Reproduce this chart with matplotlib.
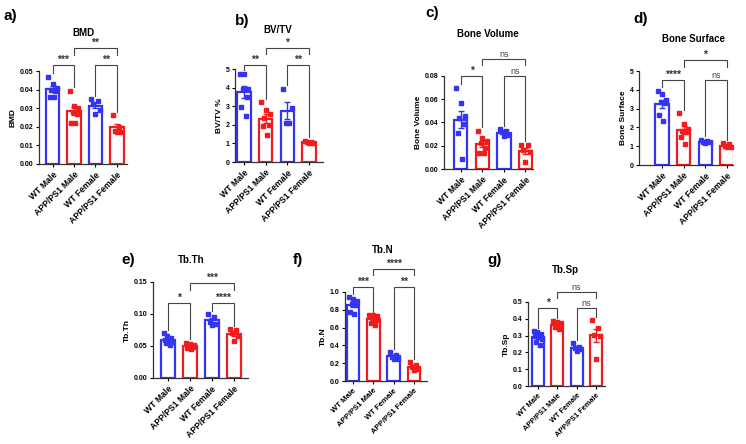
import numpy as np
import matplotlib
matplotlib.use('Agg')
import matplotlib.pyplot as plt
from matplotlib.ticker import FormatStrFormatter

plt.rcParams['font.family'] = ['Liberation Sans', 'DejaVu Sans']
plt.rcParams['font.weight'] = 'bold'

groups = ['WT Male', 'APP/PS1 Male', 'WT Female', 'APP/PS1 Female']
colors = ['#3434f4', '#f21c1c', '#3434f4', '#f21c1c']

bmd = [[0.047, 0.043, 0.041, 0.040, 0.039, 0.036, 0.036],
       [0.0394, 0.031, 0.030, 0.028, 0.027, 0.022, 0.022],
       [0.035, 0.034, 0.032, 0.029, 0.027],
       [0.0263, 0.020, 0.018, 0.017, 0.017]]
bvtv = [[4.75, 4.75, 3.95, 3.9, 3.5, 2.95, 2.5],
        [3.22, 2.79, 2.6, 2.39, 1.98, 1.92, 1.44],
        [3.95, 2.9, 2.1, 2.1],
        [1.15, 1.1, 1.05, 1.0, 1.0]]
bone_vol = [[0.070, 0.057, 0.046, 0.044, 0.039, 0.031, 0.0086],
            [0.033, 0.0266, 0.024, 0.022, 0.018, 0.0137, 0.0137],
            [0.034, 0.033, 0.032, 0.029, 0.0286],
            [0.021, 0.021, 0.016, 0.0143, 0.0057]]
bone_surf = [[3.95, 3.8, 3.45, 3.35, 3.3, 2.65, 2.35],
             [2.77, 2.2, 1.94, 1.82, 1.75, 1.5, 1.12],
             [1.35, 1.3, 1.2, 1.2, 1.15],
             [1.15, 1.1, 1.0, 0.95, 0.95]]
tb_th = [[0.070, 0.066, 0.062, 0.060, 0.058, 0.056, 0.055, 0.052],
         [0.055, 0.053, 0.051, 0.050, 0.049, 0.047, 0.046],
         [0.0996, 0.096, 0.088, 0.085, 0.083],
         [0.076, 0.075, 0.070, 0.065, 0.058]]
tb_n = [[0.94, 0.925, 0.90, 0.87, 0.85, 0.77, 0.75],
        [0.745, 0.74, 0.73, 0.72, 0.69, 0.655, 0.63],
        [0.33, 0.29, 0.27, 0.25, 0.245],
        [0.21, 0.18, 0.16, 0.14, 0.12]]
tb_sp = [[0.33, 0.32, 0.31, 0.30, 0.29, 0.28, 0.26, 0.245],
         [0.385, 0.38, 0.375, 0.37, 0.36, 0.35, 0.34],
         [0.255, 0.235, 0.225, 0.22, 0.21],
         [0.395, 0.345, 0.305, 0.30, 0.16]]

# significance: (WT M vs APP M, WT F vs APP F, APP M vs APP F)
sig_a = ['***', '**', '**']
sig_b = ['**', '**', '*']
sig_c = ['*', 'ns', 'ns']
sig_d = ['****', 'ns', '*']
sig_e = ['*', '****', '***']
sig_f = ['***', '**', '****']
sig_g = ['*', 'ns', 'ns']

W, H = 746, 444

# letter, title, ylabel, data, sig, ymax, ystep, fmt, bracket levels,
# axes px (left, right, top, bottom), xlim, letter px, title px, tick font
panels = [
    ('a)', 'BMD', 'BMD', bmd, sig_a, 0.05, 0.01, '%.2f', (0.0532, 0.0622),
     (39, 127, 71, 164), (-0.63, 3.47), (3, 16), (83, 33), 6.2),
    ('b)', 'BV/TV', 'BV/TV %', bvtv, sig_b, 5, 1, '%d', (5.2, 6.15),
     (235, 323, 69, 162), (-0.42, 3.65), (235, 21), (278, 30), 6.2),
    ('c)', 'Bone Volume', 'Bone Volume', bone_vol, sig_c, 0.08, 0.02, '%.2f', (0.08, 0.095),
     (444, 533, 76, 169), (-0.78, 3.35), (425, 13), (488, 34), 6.2),
    ('d)', 'Bone Surface', 'Bone Surface', bone_surf, sig_d, 5, 1, '%d', (4.54, 5.57),
     (639, 733, 71, 165), (-1.06, 3.28), (633, 19), (693, 39), 6.2),
    ('e)', 'Tb.Th', 'Tb.Th', tb_th, sig_e, 0.15, 0.05, '%.2f', (0.117, 0.148),
     (153, 248, 282, 378), (-0.68, 3.64), (121, 260), (191, 260), 6.2),
    ('f)', 'Tb.N', 'Tb.N', tb_n, sig_f, 1.0, 0.2, '%.1f', (1.056, 1.26),
     (345, 427, 292, 381), (-0.39, 3.64), (293, 260), (383, 250), 5.6),
    ('g)', 'Tb.Sp', 'Tb.Sp', tb_sp, sig_g, 0.5, 0.1, '%.1f', (0.464, 0.56),
     (528, 605, 302, 386), (-0.52, 3.47), (487, 260), (565, 270), 5.3),
]

fig = plt.figure(figsize=(W / 100, H / 100), dpi=100)


def jitter(n):
    base = np.linspace(-0.2, 0.2, n)
    order = [(k * 3) % n for k in range(n)]
    return base[order]


def bracket(ax, x1, x2, y, yl, yr, label):
    ax.plot([x1, x1, x2, x2], [yl, y, y, yr], color='#444444', lw=0.8,
            clip_on=False, solid_joinstyle='miter')
    if label == 'ns':
        ax.text((x1 + x2) / 2, y, label, ha='center', va='bottom',
                fontsize=6.5, fontweight='normal', color='#444444')
    else:
        ax.text((x1 + x2) / 2, y, label, ha='center', va='bottom',
                fontsize=7.5, color='#333333')


for (letter, title, ylab, data, sig, ymax, ystep, fmt, levels,
     px, xlim, lpos, tpos, tfs) in panels:
    l, r, t, b = px
    ax = fig.add_axes([l / W, 1 - b / H, (r - l) / W, (b - t) / H])
    x = np.arange(len(groups))
    means = [np.mean(d) for d in data]
    sems = [np.std(d, ddof=1) / np.sqrt(len(d)) for d in data]
    for i, d in enumerate(data):
        ax.bar(x[i], means[i], width=0.62, facecolor='white',
               edgecolor=colors[i], linewidth=1.6, zorder=2)
        ax.errorbar(x[i], means[i], yerr=sems[i], color=colors[i],
                    capsize=2.5, elinewidth=1.0, capthick=1.0, zorder=3)
        ax.plot(x[i] + jitter(len(d)), d, 's', color=colors[i],
                markersize=3.5, zorder=4, clip_on=False)

    ax.set_xlim(*xlim)
    ax.set_ylim(0, ymax)
    ax.set_yticks(np.arange(0, ymax + ystep / 2, ystep))
    ax.yaxis.set_major_formatter(FormatStrFormatter(fmt))
    ax.set_xticks(x)
    ax.set_xticklabels(groups, rotation=45, ha='right', rotation_mode='anchor',
                       fontsize=tfs, fontweight='bold')
    ax.tick_params(axis='y', labelsize=5, length=2.5, width=0.8, pad=1.5)
    ax.tick_params(axis='x', length=2.5, width=0.8, pad=2)
    for s in ['top', 'right']:
        ax.spines[s].set_visible(False)
    for s in ['left', 'bottom']:
        ax.spines[s].set_linewidth(0.9)
        ax.spines[s].set_color('#333333')
    ax.set_ylabel(ylab, fontsize=6, fontweight='bold', labelpad=2)

    gap = 0.035 * ymax
    low, top = levels
    tops = [max(d) for d in data]
    bracket(ax, 0, 1, low, tops[0] + gap, tops[1] + gap, sig[0])
    bracket(ax, 2, 3, low, tops[2] + gap, tops[3] + gap, sig[1])
    short = 0.07 * ymax
    bracket(ax, 1, 3, top, top - short, top - short, sig[2])

    fig.text(lpos[0] / W, 1 - lpos[1] / H, letter, fontsize=11,
             fontweight='bold', ha='left', va='center')
    fig.text(tpos[0] / W, 1 - tpos[1] / H, title, fontsize=7,
             fontweight='bold', ha='center', va='center')

fig.savefig('out.png', dpi=100)
